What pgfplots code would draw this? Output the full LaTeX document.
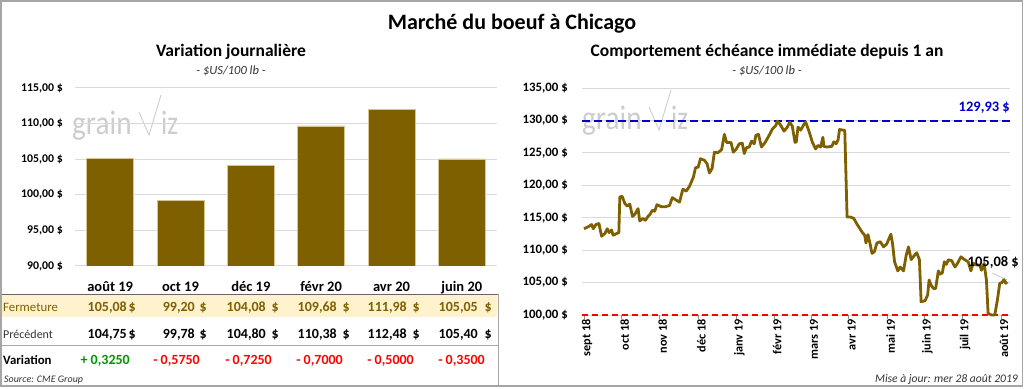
\documentclass[border=0pt]{standalone}
\usepackage{fontspec}
\setmainfont{Carlito}
\usepackage{pgfplots}
\pgfplotsset{compat=1.18}
\definecolor{bronze}{RGB}{127,96,0}
\definecolor{gridc}{RGB}{217,217,217}
\definecolor{beige}{RGB}{255,242,204}
\definecolor{framec}{RGB}{166,166,166}
\definecolor{vgreen}{RGB}{0,150,0}
\definecolor{vblue}{RGB}{0,0,204}
\definecolor{logoc}{RGB}{205,205,205}
\newcommand{\fs}[1]{\fontsize{#1}{#1}\selectfont}

\pgfplotstableread{
x y
0 113.3
4.3 113.6
7.7 113.95
9.3 113.3
12 113.95
15 114.1
17.7 112.15
21 112.56
23.3 113.3
25.3 112.7
27.7 113.1
29.3 112.3
32.7 112.56
35 112.7
36 118.2
38.3 118.3
41 117.2
43.3 116.8
46 117.1
48.7 115.2
51 115.5
54.3 116.4
56 114.5
59.3 114.9
61.7 114.6
64.3 115.2
66.7 115.6
68.7 116.15
71 116.0
73.3 117.0
77.7 116.7
82 116.7
86 116.9
88.7 118.1
92.7 117.7
96 117.4
99.3 119.4
102.7 119.1
106 119.85
110 121.3
112 122.7
114.7 122.8
117 124.1
121 123.85
123.7 123.3
126 121.9
128.7 122.6
131 125.1
134.3 125.0
138.3 125.5
141 127.85
143.3 126.6
147.7 126.6
150 125.1
153 125.6
156 126.4
159 126.5
161 124.9
163.3 125.8
166 125.9
168.3 126.8
171 126.4
172.7 127.7
175.3 127.85
178.3 125.9
182 126.6
186 127.7
189.3 128.7
192.7 129.2
194.3 129.9
197 129.4
201 128.35
204.3 128.97
206.7 129.74
209.3 129.1
212 126.6
213.3 126.7
215 128.97
217.7 128.5
221 129.4
222.7 129.74
226 128.35
229.3 126.7
232.7 125.6
235 126.15
237.7 125.9
240 127.4
241 126.0
244.3 125.9
249 126.0
251 126.7
253.3 126.4
255.3 127.0
256.7 128.6
262 128.46
264.3 115.1
267.7 115.1
271 114.9
274.3 114.0
279.3 112.8
282 112.3
283.3 111.1
285.3 112.4
287.7 110.77
289.3 109.5
291.7 109.75
294.3 111.1
297.7 111.3
301 110.5
304.3 111.0
308.3 112.46
310 111.0
312 108.2
315.3 106.8
317.7 107.4
321 106.8
323.7 109.2
326 110.5
328.7 108.55
332 109.2
334.3 109.6
337 108.5
338.7 102.05
342.7 102.2
345.3 103.1
346.7 105.4
348.7 104.6
351 104.1
353.3 104.1
356 106.8
358 106.3
360 106.5
362 108.2
364 107.8
366 108.5
369.3 108.4
372.7 107.4
375 107.9
378.7 108.97
382.7 108.5
386 108.2
388.7 106.8
391 108.0
394.3 107.7
397.7 107.7
399.3 106.9
402 107.95
404.3 105.4
406 100.26
409.3 100.0
412.7 100.0
415.3 102.3
417.7 104.9
420 105.0
422 105.5
423.7 104.9
425.3 105.08
}\pricedata

\begin{document}
\begin{tikzpicture}[x=1pt,y=1pt]
\useasboundingbox (0,0) rectangle (1024,388);
\draw[framec, line width=1.5pt] (1,2) rectangle (1022.5,387);

% titles
\node[font=\bfseries\fs{22}] at (512,364) {Marché du boeuf à Chicago};
\node[font=\bfseries\fs{17.5}] at (231,336) {Variation journalière};
\node[font=\itshape\fs{12.5}, text=black!80] at (231,317) {- \$US/100 lb -};
\node[font=\bfseries\fs{17.5}] at (767,336) {Comportement échéance immédiate depuis 1 an};
\node[font=\itshape\fs{12.5}, text=black!80] at (767,317) {- \$US/100 lb -};

% logos
\node[anchor=base west, inner sep=0pt, text=logoc, font=\fs{34}, xscale=0.86] at (72,253) {grain};
\draw[logoc, line width=0.9pt] (139,276) -- (149,253) -- (161,293);
\node[anchor=base west, inner sep=0pt, text=logoc, font=\fs{34}, xscale=0.8] at (161,253) {iz};
\node[anchor=base west, inner sep=0pt, text=logoc, font=\fs{34}, xscale=0.86] at (582,258) {grain};
\draw[logoc, line width=0.9pt] (649,281) -- (659,258) -- (671,298);
\node[anchor=base west, inner sep=0pt, text=logoc, font=\fs{34}, xscale=0.8] at (671,258) {iz};

% left bar chart
\begin{axis}[at={(75pt,122pt)}, anchor=south west, scale only axis,
  width=422pt, height=178pt,
  xmin=-0.5, xmax=5.5, ymin=90, ymax=115,
  ytick={90,95,100,105,110,115},
  yticklabels={{90,00 \$},{95,00 \$},{100,00 \$},{105,00 \$},{110,00 \$},{115,00 \$}},
  xtick={0,1,2,3,4,5},
  xticklabels={août 19,oct 19,déc 19,févr 20,avr 20,juin 20},
  axis line style={draw=none}, major tick length=0pt,
  ymajorgrids, grid style={gridc, line width=1pt},
  yticklabel style={font=\bfseries\fs{11.8}, anchor=east, inner sep=0pt, xshift=-12pt},
  xticklabel style={font=\bfseries\fs{14.5}, anchor=base, inner sep=0pt, yshift=-25pt},
]
\addplot[ybar, bar width=47pt, fill=bronze, draw=beige!70!bronze, line width=0.6pt]
  coordinates {(0,105.08) (1,99.20) (2,104.08) (3,109.68) (4,111.98) (5,105.05)};
\end{axis}

% right line chart
\begin{axis}[at={(582pt,73pt)}, anchor=south west, scale only axis,
  width=428pt, height=227pt,
  xmin=-2, xmax=428, ymin=100, ymax=135, clip=false,
  ytick={100,105,110,115,120,125,130,135},
  yticklabels={{100,00 \$},{105,00 \$},{110,00 \$},{115,00 \$},{120,00 \$},{125,00 \$},{130,00 \$},{135,00 \$}},
  xtick={0,38,76,115,153,191,228,266,305,342,380,419},
  xticklabels={sept 18,oct 18,nov 18,déc 18,janv 19,févr 19,mars 19,avr 19,mai 19,juin 19,juil 19,août 19},
  axis line style={draw=none},
  ymajorgrids, grid style={gridc, line width=1pt},
  ytick style={draw=none},
  xtick style={draw=black!45, line width=0.8pt},
  tick align=outside, xtick pos=bottom, major tick length=4pt,
  yticklabel style={font=\bfseries\fs{12.8}, anchor=east, inner sep=0pt, xshift=-10pt},
  xticklabel style={font=\bfseries\fs{12.2}, rotate=90, anchor=east, inner sep=0pt, yshift=-3pt},
]
\addplot[red, dash pattern=on 6pt off 4pt, line width=1.5pt] coordinates {(-2,100) (428,100)};
\addplot[vblue, dash pattern=on 8pt off 4pt, line width=2.2pt] coordinates {(-2,129.93) (428,129.93)};
\addplot[bronze, line width=2.8pt, line join=round] table[x=x,y=y] {\pricedata};
\end{axis}

\node[anchor=base east, inner sep=0pt, font=\bfseries\fs{14.5}, text=vblue] at (1010,276) {129,93 \$};
\node[anchor=base east, inner sep=0pt, font=\bfseries\fs{14.5}] at (1019,121) {105,08 \$};
\draw[black!30, line width=0.5pt] (992,115) -- (1007,108);

% table
\fill[beige] (2,71) rectangle (497,93);
\draw[black!60, line width=1pt] (1.5,93.5) -- (498,93.5);
\draw[black!35, line width=1pt] (1.5,43) -- (498,43);
\draw[framec, line width=1pt] (498,94) -- (498,2);

\node[anchor=base west, inner sep=0pt, font=\fs{12.8}, text=bronze] at (3,77) {Fermeture};
\node[anchor=base west, inner sep=0pt, font=\fs{12}, text=black!80] at (3,50) {Précédent};
\node[anchor=base west, inner sep=0pt, font=\bfseries\fs{12.8}] at (3,24) {Variation};

% Fermeture
\begin{scope}[every node/.style={anchor=base east, inner sep=0pt, font=\bfseries\fs{14}, text=bronze}]
\node at (127,77) {105,08}; \node at (136,77) {\$};
\node at (195,77) {99,20}; \node at (207,77) {\$};
\node at (266,77) {104,08}; \node at (279,77) {\$};
\node at (337,77) {109,68}; \node at (350,77) {\$};
\node at (407,77) {111,98}; \node at (420,77) {\$};
\node at (478,77) {105,05}; \node at (492,77) {\$};
\end{scope}
% Precedent
\begin{scope}[every node/.style={anchor=base east, inner sep=0pt, font=\bfseries\fs{14}, text=black}]
\node at (127,50) {104,75}; \node at (136,50) {\$};
\node at (195,50) {99,78}; \node at (207,50) {\$};
\node at (266,50) {104,80}; \node at (279,50) {\$};
\node at (337,50) {110,38}; \node at (350,50) {\$};
\node at (407,50) {112,48}; \node at (420,50) {\$};
\node at (478,50) {105,40}; \node at (492,50) {\$};
\end{scope}
% Variation
\begin{scope}[every node/.style={anchor=base east, inner sep=0pt, font=\bfseries\fs{14}, text=red}]
\node[text=vgreen] at (130,24) {+ 0,3250};
\node at (200,24) {- 0,5750};
\node at (272,24) {- 0,7250};
\node at (343,24) {- 0,7000};
\node at (414,24) {- 0,5000};
\node at (485,24) {- 0,3500};
\end{scope}

\node[anchor=base west, inner sep=0pt, font=\itshape\fs{10}, text=black!80] at (4,6) {Source: CME Group};
\node[anchor=base east, inner sep=0pt, font=\itshape\fs{11.6}, text=black!80] at (1018,6) {Mise à jour: mer 28 août 2019};
\end{tikzpicture}
\end{document}
